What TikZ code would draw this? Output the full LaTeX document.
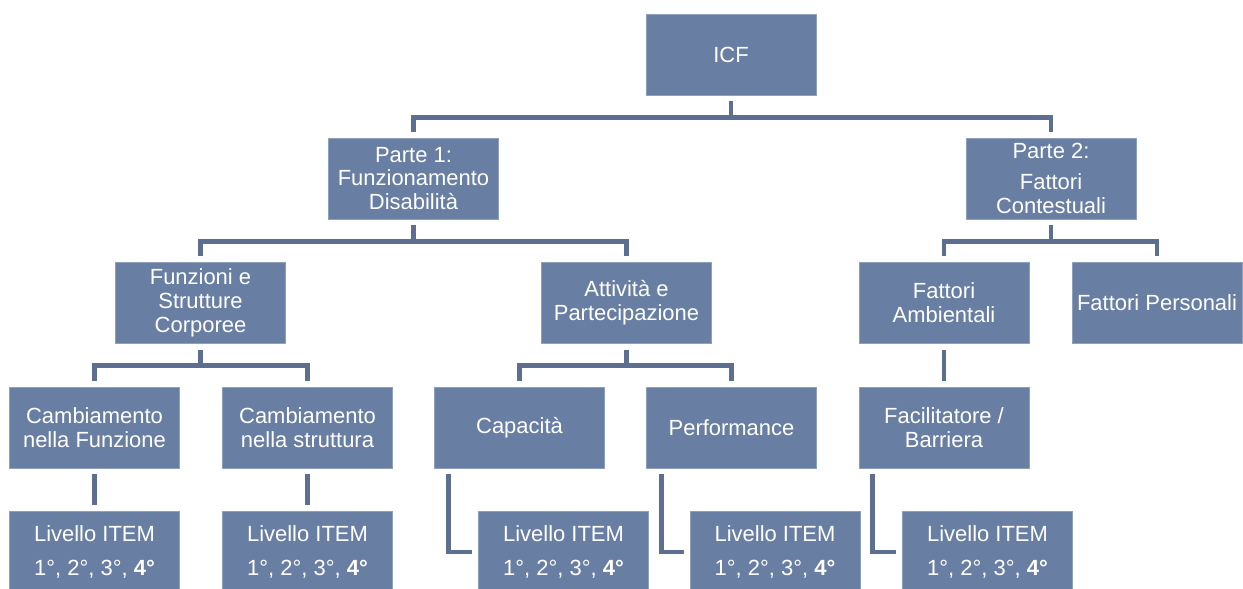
\documentclass[tikz,border=0pt]{standalone}
\usepackage{fontspec}
\setmainfont{Liberation Sans}

\definecolor{boxfill}{RGB}{104,126,163}
\definecolor{boxline}{RGB}{142,160,190}
\definecolor{linkcol}{RGB}{93,111,144}

\begin{document}
\begin{tikzpicture}[x=0.02cm,y=-0.02cm,
  box/.style={draw=boxline, line width=0.4pt, fill=boxfill, text=white,
    minimum width=3.4cm, minimum height=1.62cm, inner sep=1pt, align=center,
    font=\fontsize{12.5}{13.5}\selectfont},
  link/.style={draw=linkcol, line width=2.8pt, shorten <=3.4pt, shorten >=3.4pt}]

\useasboundingbox (0,0) rectangle (1243,588);
\clip (0,0) rectangle (1243,588);

% Boxes
\node [box] (icf) at (731,54.5) {ICF};

\node [box] (p1) at (413.5,178.5) {Parte 1:\\Funzionamento\\Disabilità};
\node [box] (p2) at (1051,178.5) {Parte 2:\\[4pt]Fattori\\Contestuali};

\node [box] (fsc) at (200.5,303) {Funzioni e\\Strutture\\Corporee};
\node [box] (att) at (626.5,303) {Attività e\\Partecipazione};
\node [box] (fa) at (944,303) {Fattori\\Ambientali};
\node [box] (fp) at (1157,303) {Fattori Personali};

\node [box] (cf) at (94.5,427.5) {Cambiamento\\nella Funzione};
\node [box] (cs) at (307.5,427.5) {Cambiamento\\nella struttura};
\node [box] (cap) at (519.5,427.5) {Capacità};
\node [box] (perf) at (731.5,427.5) {Performance};
\node [box] (fb) at (944,427.5) {Facilitatore /\\Barriera};

\node [box] (lcf) at (94.5,552) {Livello ITEM\\[6pt]1°, 2°, 3°, \textbf{4°}};
\node [box] (lcs) at (307.5,552) {Livello ITEM\\[6pt]1°, 2°, 3°, \textbf{4°}};
\node [box] (lcap) at (563.5,552) {Livello ITEM\\[6pt]1°, 2°, 3°, \textbf{4°}};
\node [box] (lperf) at (775,552) {Livello ITEM\\[6pt]1°, 2°, 3°, \textbf{4°}};
\node [box] (lfb) at (987.5,552) {Livello ITEM\\[6pt]1°, 2°, 3°, \textbf{4°}};

% Connectors
\draw [link] (icf.south) -- ++(0,22) -| (p1.north);
\draw [link] (icf.south) -- ++(0,22) -| (p2.north);

\draw [link] (p1.south) -- ++(0,22) -| (fsc.north);
\draw [link] (p1.south) -- ++(0,22) -| (att.north);
\draw [link] (p2.south) -- ++(0,22) -| (fa.north);
\draw [link] (p2.south) -- ++(0,22) -| (fp.north);

\draw [link] (fsc.south) -- ++(0,22) -| (cf.north);
\draw [link] (fsc.south) -- ++(0,22) -| (cs.north);
\draw [link] (att.south) -- ++(0,22) -| (cap.north);
\draw [link] (att.south) -- ++(0,22) -| (perf.north);
\draw [link] (fa.south) -- (fb.north);

\draw [link] (cf.south) -- (lcf.north);
\draw [link] (cs.south) -- (lcs.north);
\draw [link] ([xshift=0.28cm]cap.south west) |- (lcap.west);
\draw [link] ([xshift=0.3cm]perf.south west) |- (lperf.west);
\draw [link] ([xshift=0.28cm]fb.south west) |- (lfb.west);
\end{tikzpicture}
\end{document}
